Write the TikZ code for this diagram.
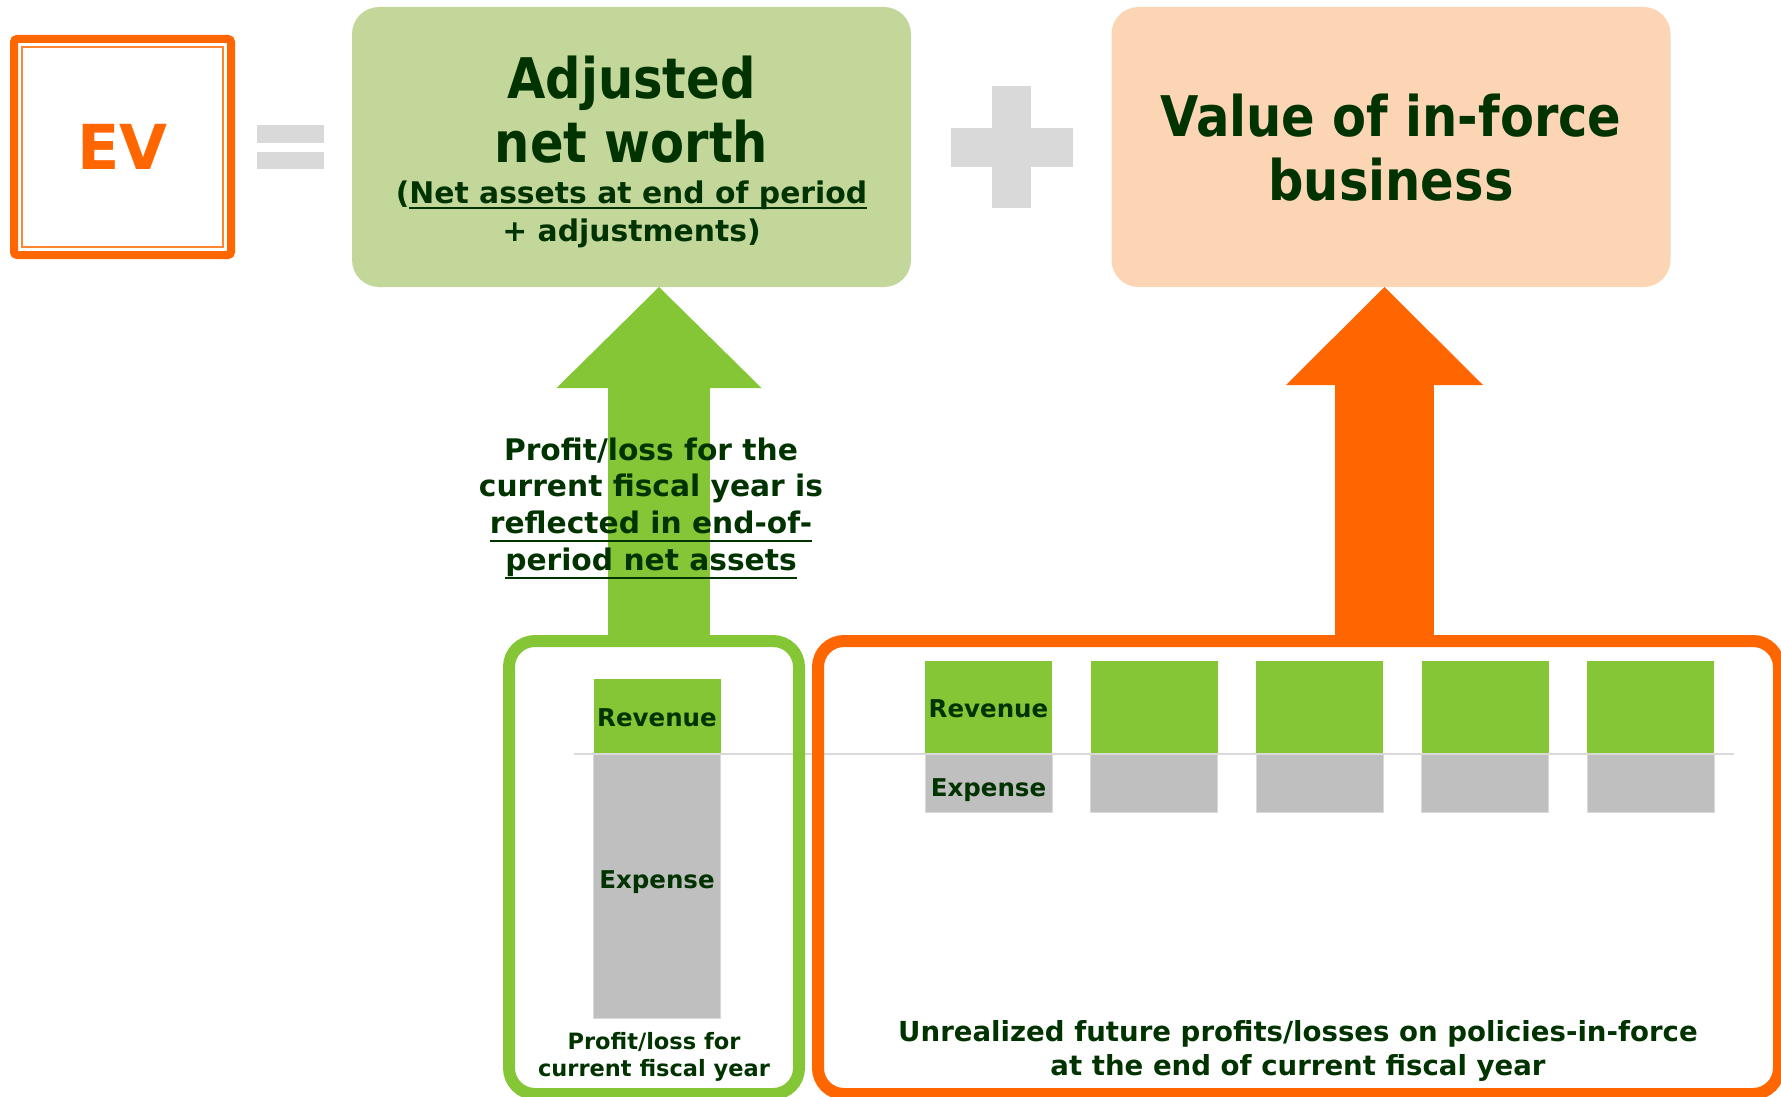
\documentclass[tikz,border=0pt]{standalone}
\usepackage{fontspec}
\setmainfont{DejaVu Sans}
\newfontfamily\narrowsans[FakeStretch=0.885]{DejaVu Sans}
\usetikzlibrary{arrows.meta}

\definecolor{evorange}{HTML}{FF6600}
\definecolor{anwfill}{HTML}{C4D79B}
\definecolor{viffill}{HTML}{FCD5B5}
\definecolor{bargreen}{HTML}{85C637}
\definecolor{bargray}{HTML}{BFBFBF}
\definecolor{signgray}{HTML}{D9D9D9}
\definecolor{textgreen}{HTML}{003300}

\newsavebox{\ulbox}
\newcommand{\textstack}[1]{\begin{tabular}[t]{@{}c@{}}#1\end{tabular}}
\newcommand{\ulat}[2]{\sbox{\ulbox}{#2}\rlap{\rule[-#1]{\wd\ulbox}{2pt}}\usebox{\ulbox}}

\begin{document}
\begin{tikzpicture}[x=1pt, y=-1pt]
  \tikzset{evbox/.style={draw=evorange, line width=8pt, rounded corners=3pt, minimum width=217pt, minimum height=216pt, inner sep=0pt, outer sep=0pt, text=evorange, font=\bfseries\fontsize{62}{62}\selectfont},
    valuebox/.style={rounded corners=27pt, inner sep=0pt, outer sep=0pt, minimum width=559pt, minimum height=280pt},
    yearframe/.style={draw, rounded corners=26pt, line width=12pt, inner sep=0pt, outer sep=0pt, minimum height=453pt},
    barbox/.style={inner sep=0pt, outer sep=0pt, minimum width=127pt},
    revbar/.style={barbox, fill=bargreen},
    expbar/.style={barbox, fill=bargray, draw=signgray, line width=1pt},
    words/.style={anchor=base, inner sep=0pt, text=textgreen},
    titletext/.style={words, font=\narrowsans\bfseries\fontsize{56}{64}\selectfont},
    subtext/.style={words, font=\bfseries\fontsize{29.8}{38}\selectfont},
    midtext/.style={words, font=\bfseries\fontsize{29.7}{36.7}\selectfont},
    smalltext/.style={words, font=\bfseries\fontsize{22.5}{27}\selectfont},
    bottomtext/.style={words, font=\bfseries\fontsize{27.6}{34}\selectfont},
    barlabel/.style={words, font=\bfseries\fontsize{24.5}{24.5}\selectfont}}
  \useasboundingbox (0,0) rectangle (1781,1097);

  % EV =
  \node[evbox] (ev) at (122.5,147) {EV};
  \draw[evorange!80!white, line width=2.5pt] ([shift={(8pt,-8pt)}]ev.north west) rectangle ([shift={(-8pt,8pt)}]ev.south east);
  \fill[signgray] (257,125) rectangle (324,143);
  \fill[signgray] (257,152) rectangle (324,169);

  % adjusted net worth + value of in-force business
  \node[valuebox, fill=anwfill] (anw) at (631.5,147) {};
  \node[titletext] at (631.5,99) {\textstack{Adjusted\\net worth}};
  \node[subtext] at (631.5,204) {\textstack{(\ulat{5.3pt}{Net assets at end of period}\\+ adjustments)}};
  \fill[signgray] (992,86) rectangle (1031,208);
  \fill[signgray] (951,128) rectangle (1073,167);
  \node[valuebox, fill=viffill] (vif) at (1391,147) {};
  \node[titletext] at (1391,137) {\textstack{Value of in-force\\business}};

  % big arrows
  \coordinate (gtail) at (659,641);
  \coordinate (otail) at (1384.5,641);
  \draw[bargreen, line width=102pt, -{Triangle[length=101pt, width=205pt, line width=0pt]}] (gtail) -- (gtail |- anw.south);
  \draw[evorange, line width=99pt, -{Triangle[length=98pt, width=197pt, line width=0pt]}] (otail) -- (otail |- vif.south);
  \node[midtext] at (651,460) {\textstack{Profit/loss for the\\current fiscal year is\\\ulat{9pt}{reflected in end-of-}\\\ulat{9pt}{period net assets}}};

  % current fiscal year
  \node[revbar, minimum height=75pt] (rev) at (657,716.5) {};
  \node[expbar, minimum height=264pt] (exp) at (657,886) {};
  \node[barlabel] at (657,726) {Revenue};
  \node[barlabel] at (657,888) {Expense};
  \node[smalltext] at (654,1049) {\textstack{Profit/loss for\\current fiscal year}};

  % future fiscal years
  \foreach \i in {0,...,4} {
    \node[revbar, minimum height=93pt] (rev\i) at ({988.5+165.5*\i},707.5) {};
    \node[expbar, minimum height=58pt] (exp\i) at ({988.5+165.5*\i},783) {};
  }
  \node[barlabel] at (988.5,717) {Revenue};
  \node[barlabel] at (988.5,796) {Expense};
  \node[bottomtext] at (1298,1041) {\textstack{Unrealized future profits/losses on policies-in-force\\at the end of current fiscal year}};

  \draw[signgray, line width=2pt] (574,754) -- (1734,754);

  % frames
  \node[yearframe, draw=bargreen, minimum width=290pt] (cyframe) at (654,867.5) {};
  \node[yearframe, draw=evorange, minimum width=961pt] (ifframe) at (1298.5,867.5) {};
\end{tikzpicture}
\end{document}
